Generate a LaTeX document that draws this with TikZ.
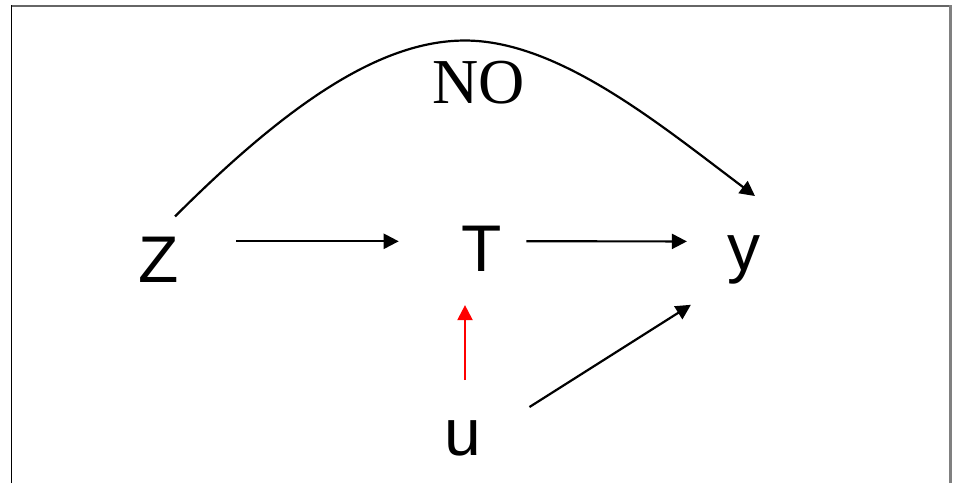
\documentclass[tikz,border=0pt]{standalone}
\usepackage{fontspec}
\setmainfont{Liberation Sans}
\newfontfamily\timesfont{Liberation Serif}
\usetikzlibrary{arrows.meta}
\begin{document}
\begin{tikzpicture}[x=1pt,y=1pt,>={Triangle[length=15pt,width=15pt]},line width=2.2pt,
	var/.style={inner sep=0pt,anchor=base,font=\fontsize{66}{66}\selectfont}]
	\useasboundingbox (0,0) rectangle (955,483);
	\draw[black!60,line width=1.5pt] (11,477) -- (951.5,477);
	\draw[black,line width=1.5pt] (11.7,0) -- (11.7,477.7);
	\draw[black!50,line width=2.5pt] (950.5,0) -- (950.5,477.7);
	\node[var] (Z) at (159,201) {Z};
	\node[var] (T) at (482,212) {T};
	\node[var] (y) at (744,213) {y};
	\node[var] (u) at (463,28) {u};
	\node[inner sep=0pt,anchor=base,font=\timesfont\fontsize{64}{64}\selectfont]
		(no) at (479,380) {NO};
	\draw[->] ([shift={(56,18)}]Z.east) -- ([shift={(-62,7)}]T.west);
	\draw[->] ([shift={(23,7)}]T.east) -- ([shift={(-39.5,18)}]y.west);
	\draw[->,red] ([shift={(2,39)}]u.north) -- ([shift={(-17,-33)}]T.south);
	\draw[->] ([shift={(47,12)}]u.north east) -- ([shift={(-35.5,-20)}]y.south west);
	\draw[->] ([shift={(16,19)}]Z.north) .. controls +(120,120) and +(-80,0) ..
		([shift={(-14,19)}]no.north) .. controls +(94,0) and +(-94,70.5) ..
		([shift={(11,38)}]y.north);
\end{tikzpicture}
\end{document}
